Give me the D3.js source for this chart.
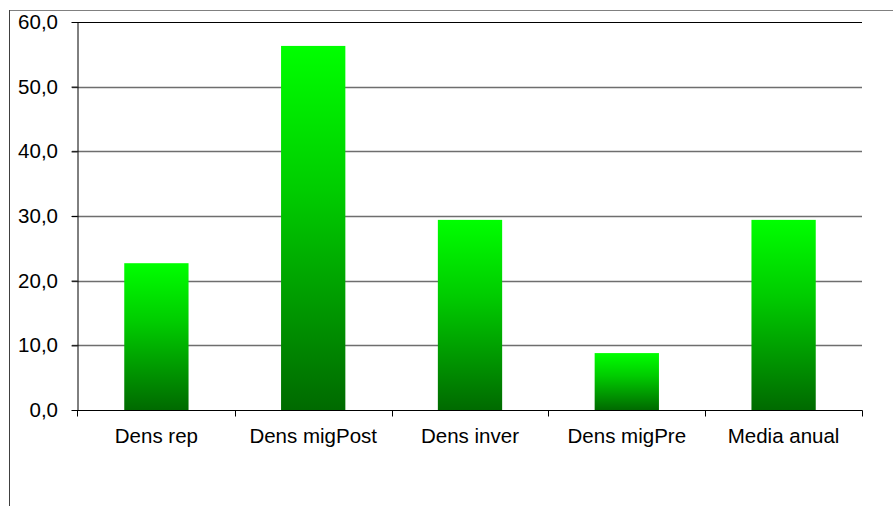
<!DOCTYPE html>
<html>
<head>
<meta charset="utf-8">
<script src="https://cdn.jsdelivr.net/npm/d3@7"></script>
<style>
  body { margin: 0; background: #fff; }
  svg text { font-family: "Liberation Sans", Arial, sans-serif; fill: #000; }
</style>
</head>
<body>
<script>
// data
var categories = ["Dens rep", "Dens migPost", "Dens inver", "Dens migPre", "Media anual"];
var values = [22.7, 56.3, 29.4, 8.8, 29.4];
var yTicks = [0, 10, 20, 30, 40, 50, 60];

var W = 893, H = 506;
var margin = {top: 22, right: 31, bottom: 96, left: 78},
    width = W - margin.left - margin.right,
    height = H - margin.top - margin.bottom;

var svg = d3.select("body").append("svg")
    .attr("width", W)
    .attr("height", H);

// gradient for bars
var defs = svg.append("defs");
var grad = defs.append("linearGradient")
    .attr("id", "barGrad")
    .attr("x1", 0).attr("y1", 0).attr("x2", 0).attr("y2", 1);
grad.append("stop").attr("offset", "0%").attr("stop-color", "#00ff00");
grad.append("stop").attr("offset", "40%").attr("stop-color", "#00cc00");
grad.append("stop").attr("offset", "100%").attr("stop-color", "#006a00");

// outer frame (top + left edges)
svg.append("line")
    .attr("x1", 9.5).attr("x2", W).attr("y1", 10.5).attr("y2", 10.5)
    .attr("stroke", "#808080").attr("stroke-width", 1);
svg.append("line")
    .attr("x1", 9.5).attr("x2", 9.5).attr("y1", 10).attr("y2", H)
    .attr("stroke", "#404040").attr("stroke-width", 1);

var g = svg.append("g")
    .attr("transform", "translate(" + margin.left + "," + margin.top + ")");

var x = d3.scaleBand().domain(categories).range([0, width]).paddingInner(0.59).paddingOuter(0.295);
var xb = d3.scaleBand().domain(categories).range([0, width]);
var y = d3.scaleLinear().domain([0, 60]).range([height, 0]);

// gridlines
g.append("g")
    .selectAll("line")
    .data(yTicks.filter(function(d) { return d > 0; }))
    .enter().append("line")
    .attr("x1", -6).attr("x2", width)
    .attr("y1", function(d) { return Math.round(y(d)) + 0.5; })
    .attr("y2", function(d) { return Math.round(y(d)) + 0.5; })
    .attr("stroke", function(d) { return d === 60 ? "#000" : "#6e6e6e"; })
    .attr("stroke-width", function(d) { return d === 60 ? 1 : 1.4; });

// bars
g.selectAll(".bar")
    .data(values)
    .enter().append("rect")
    .attr("class", "bar")
    .attr("x", function(d, i) { return x(categories[i]); })
    .attr("width", x.bandwidth())
    .attr("y", function(d) { return y(d); })
    .attr("height", function(d) { return height - y(d); })
    .attr("fill", "url(#barGrad)");

// y axis
var yAxis = g.append("g")
    .attr("transform", "translate(-0.5,0)")
    .call(d3.axisLeft(y).tickValues(yTicks).tickSize(6).tickSizeOuter(0)
        .tickFormat(function(d) { return d3.format(".1f")(d).replace(".", ","); }));
yAxis.select(".domain").attr("stroke", "#000");
yAxis.selectAll(".tick line").attr("stroke", "#000");
yAxis.selectAll("text")
    .attr("x", -19.5)
    .style("font-size", "20.5px")
    .style("font-family", "'Liberation Sans', Arial, sans-serif");

// x axis: baseline + ticks at band boundaries
var xAxis = g.append("g").attr("transform", "translate(0," + (height + 0.5) + ")");
xAxis.append("line")
    .attr("x1", -6).attr("x2", width + 0.5)
    .attr("stroke", "#000");
xAxis.selectAll(".sep")
    .data(categories.concat(["_end"]))
    .enter().append("line")
    .attr("class", "sep")
    .attr("x1", function(d, i) { return Math.round(i * xb.step()) + 0.5 - (i === 0 ? 1 : 0); })
    .attr("x2", function(d, i) { return Math.round(i * xb.step()) + 0.5 - (i === 0 ? 1 : 0); })
    .attr("y1", 0).attr("y2", 6)
    .attr("stroke", "#000");
xAxis.selectAll(".lab")
    .data(categories)
    .enter().append("text")
    .attr("class", "lab")
    .attr("x", function(d) { return xb(d) + xb.bandwidth() / 2; })
    .attr("y", 32)
    .attr("text-anchor", "middle")
    .style("font-size", "20.5px")
    .text(function(d) { return d; });
</script>
</body>
</html>
